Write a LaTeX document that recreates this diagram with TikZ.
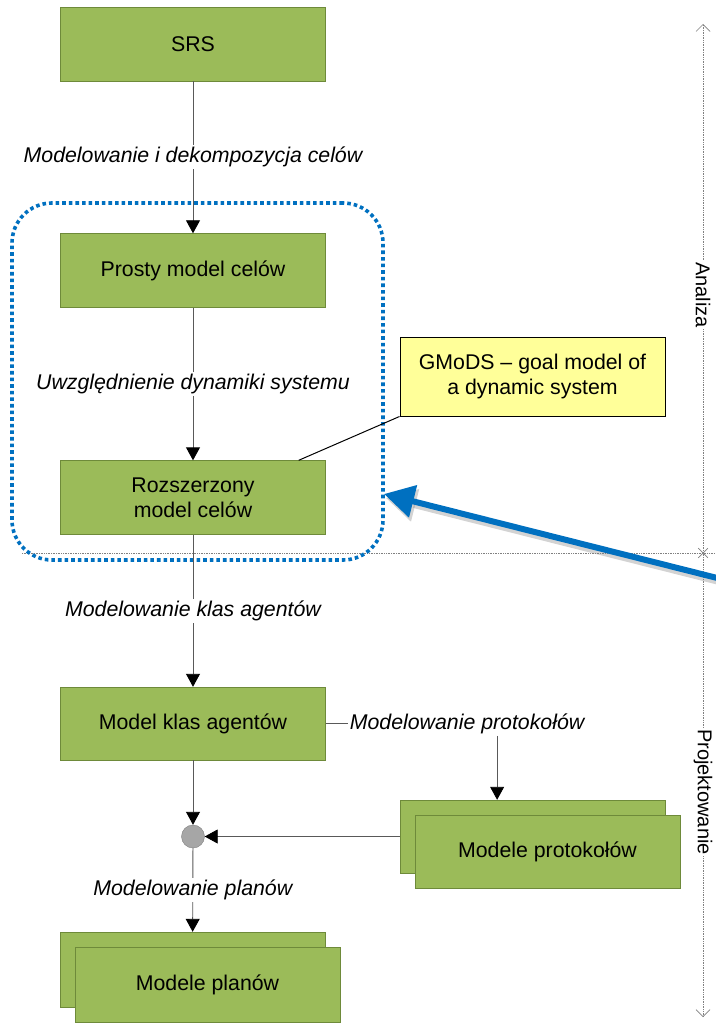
\documentclass[tikz,border=0pt]{standalone}
\usepackage{fontspec}
\setmainfont{Liberation Sans}
\usetikzlibrary{arrows.meta}
\usetikzlibrary{positioning}
\usetikzlibrary{shapes.misc}

\definecolor{boxgreen}{HTML}{9BBB59}
\definecolor{boxborder}{HTML}{6E8A3A}
\definecolor{linegray}{HTML}{595959}
\definecolor{notefill}{HTML}{FFFF99}
\definecolor{msblue}{HTML}{0070C0}

\begin{document}
\begin{tikzpicture}[x=1pt, y=-1pt, font=\fontsize{21.3}{25}\selectfont,
    box/.style={draw=boxborder, fill=boxgreen, rectangle, minimum width=265pt, minimum height=74pt, align=center},
    lab/.style={fill=white, font=\fontsize{21.3}{25}\selectfont\itshape, inner sep=2pt},
    flow/.style={draw=linegray, line width=0.9pt, -{Triangle[length=13pt,width=14pt,color=black]}},
    link/.style={draw=linegray, line width=0.9pt},
    axis/.style={draw=gray, line width=0.7pt, densely dotted}]

    \useasboundingbox (0,0) rectangle (715,1024);

    % Phase axis and divider
    \coordinate (axtop) at (703,24);
    \coordinate (axbot) at (703,1017);
    \coordinate (divl) at (22,553);
    \coordinate (divr) at (715,553);
    \draw [axis, {Straight Barb[length=7pt,width=14pt]}-{Straight Barb[length=7pt,width=14pt]}] (axtop) -- (axbot);
    \draw [axis] (divl) -- (divr);
    \node [cross out, draw=gray, line width=0.7pt, minimum size=9pt, inner sep=0pt] (cross) at (703,553) {};
    \node [rotate=-90, fill=white, inner sep=1pt, font=\fontsize{20}{22}\selectfont] (analiza) at (703,295) {Analiza};
    \node [rotate=-90, fill=white, inner sep=1pt, font=\fontsize{20}{22}\selectfont] (projekt) at (703,792) {Projektowanie};

    % Nodes
    \node [box] (srs) at (193,44) {SRS};
    \node [box] (prosty) at (193,270.5) {Prosty model celów};
    \node [box] (roz) at (193,497.5) {Rozszerzony\\model celów};
    \node [box, minimum height=73pt] (mka) at (193,723.5) {Model klas agentów};
    \node [box, minimum height=73pt] (protoback) at (532.5,836.5) {};
    \node [box, minimum height=73pt] (proto) at (547.5,851.5) {Modele protokołów};
    \node [circle, draw=gray, fill=gray!70, minimum size=23pt, inner sep=0pt] (join) at (193,836.5) {};
    \node [box, minimum height=75pt] (planback) at (192.5,969.5) {};
    \node [box, minimum height=75pt] (plan) at (207.5,984.5) {Modele planów};

    % Goal models group
    \node [draw=msblue, line width=3.6pt, dash pattern=on 3.6pt off 3pt, rounded corners=40pt,
           minimum width=371pt, minimum height=357pt] (grp) at (197.5,381.5) {};

    % Note
    \node [draw=black, line width=1pt, fill=notefill, minimum width=265pt, minimum height=79pt, align=center] (note) at (532.5,376.5) {GMoDS -- goal model of\\a dynamic system};
    \draw [black, line width=1pt] (note.south west) -- ([xshift=-27pt]roz.north east);

    % Connections (Arrows)
    \draw [flow] (srs) -- (prosty) node[midway, lab] {Modelowanie i dekompozycja celów};
    \draw [flow] (prosty) -- (roz) node[midway, lab] {Uwzględnienie dynamiki systemu};
    \draw [flow] (roz) -- (mka) node[midway, lab] {Modelowanie klas agentów};
    \node [lab, right=22pt of mka.east] (labproto) {Modelowanie protokołów};
    \draw [link] (mka.east) -- (labproto.west);
    \draw [flow] ([xshift=30pt]labproto.south) -- ([xshift=30pt]labproto.south |- protoback.north);
    \draw [flow] (mka) -- (join);
    \draw [flow] (protoback.west) -- (join);
    \draw [flow] (join) -- (planback) node[midway, lab] {Modelowanie planów};

    % Pointer
    \coordinate (bluestart) at (745,585);
    \coordinate (bluetip) at (384,494);
    \draw [gray, opacity=0.35, line width=6pt, -{Triangle[length=30pt,width=32pt]}, transform canvas={shift={(2pt,-4pt)}}] (bluestart) -- (bluetip);
    \draw [msblue, line width=6pt, -{Triangle[length=30pt,width=32pt]}] (bluestart) -- (bluetip);

\end{tikzpicture}
\end{document}
